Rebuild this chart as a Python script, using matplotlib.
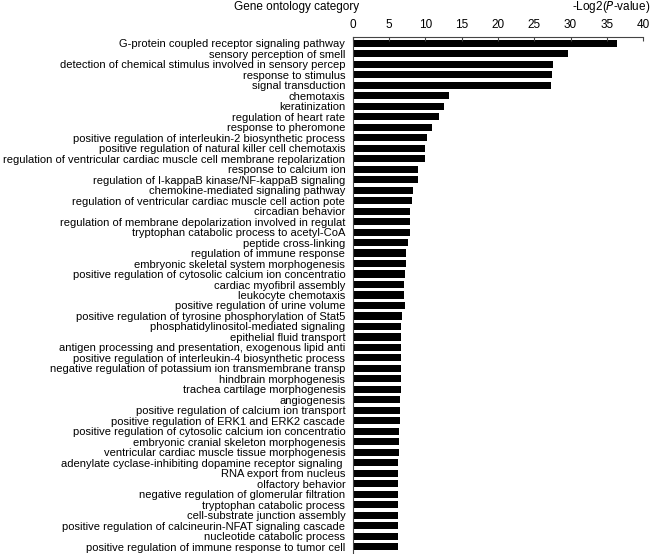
import matplotlib
matplotlib.use("Agg")
import matplotlib.pyplot as plt

categories = [
    "G-protein coupled receptor signaling pathway",
    "sensory perception of smell",
    "detection of chemical stimulus involved in sensory percep",
    "response to stimulus",
    "signal transduction",
    "chemotaxis",
    "keratinization",
    "regulation of heart rate",
    "response to pheromone",
    "positive regulation of interleukin-2 biosynthetic process",
    "positive regulation of natural killer cell chemotaxis",
    "regulation of ventricular cardiac muscle cell membrane repolarization",
    "response to calcium ion",
    "regulation of I-kappaB kinase/NF-kappaB signaling",
    "chemokine-mediated signaling pathway",
    "regulation of ventricular cardiac muscle cell action pote",
    "circadian behavior",
    "regulation of membrane depolarization involved in regulat",
    "tryptophan catabolic process to acetyl-CoA",
    "peptide cross-linking",
    "regulation of immune response",
    "embryonic skeletal system morphogenesis",
    "positive regulation of cytosolic calcium ion concentratio",
    "cardiac myofibril assembly",
    "leukocyte chemotaxis",
    "positive regulation of urine volume",
    "positive regulation of tyrosine phosphorylation of Stat5",
    "phosphatidylinositol-mediated signaling",
    "epithelial fluid transport",
    "antigen processing and presentation, exogenous lipid anti",
    "positive regulation of interleukin-4 biosynthetic process",
    "negative regulation of potassium ion transmembrane transp",
    "hindbrain morphogenesis",
    "trachea cartilage morphogenesis",
    "angiogenesis",
    "positive regulation of calcium ion transport",
    "positive regulation of ERK1 and ERK2 cascade",
    "positive regulation of cytosolic calcium ion concentratio",
    "embryonic cranial skeleton morphogenesis",
    "ventricular cardiac muscle tissue morphogenesis",
    "adenylate cyclase-inhibiting dopamine receptor signaling ",
    "RNA export from nucleus",
    "olfactory behavior",
    "negative regulation of glomerular filtration",
    "tryptophan catabolic process",
    "cell-substrate junction assembly",
    "positive regulation of calcineurin-NFAT signaling cascade",
    "nucleotide catabolic process",
    "positive regulation of immune response to tumor cell",
]

values = [
    36.4, 29.6, 27.6, 27.4, 27.3, 13.2, 12.6, 11.8, 10.9, 10.2,
    9.9, 9.9, 9.0, 8.95, 8.3, 8.1, 7.86, 7.86, 7.86, 7.6,
    7.3, 7.3, 7.2, 7.1, 7.1, 7.15, 6.76, 6.62, 6.62, 6.62,
    6.62, 6.62, 6.62, 6.62, 6.53, 6.46, 6.46, 6.37, 6.37, 6.37,
    6.14, 6.14, 6.14, 6.14, 6.14, 6.14, 6.14, 6.14, 6.14,
]

xticks = [0, 5, 10, 15, 20, 25, 30, 35, 40]

plt.rcParams['font.family'] = ['Liberation Sans', 'DejaVu Sans']
FS = 8.5
LFS = 8.0

fig = plt.figure(figsize=(6.51, 5.54), dpi=100)
ax = fig.add_axes([353 / 651, 1 - 553 / 554, 290 / 651, (553 - 37) / 554])

ypos = list(range(len(categories)))
ax.barh(ypos, values, height=0.68, color='black')

ax.set_xlim(0, 40)
ax.set_ylim(len(categories) - 0.4, -0.6)
ax.set_xticks(xticks)
ax.xaxis.tick_top()
ax.tick_params(axis='x', direction='in', length=3, width=0.8, labelsize=FS, pad=4, color='#444444')
ax.set_yticks(ypos)
ax.set_yticklabels(categories, fontsize=LFS)
ax.tick_params(axis='y', length=0, pad=5.5)

for s in ['right', 'bottom']:
    ax.spines[s].set_visible(False)
for s in ['left', 'top']:
    ax.spines[s].set_linewidth(0.8)
    ax.spines[s].set_color('#444444')

fig.text(297 / 651, 1 - 7 / 554, "Gene ontology category", ha='center', va='center', fontsize=FS)
fig.text(650 / 651, 1 - 7 / 554, r"-Log2($\it{P}$-value)", ha='right', va='center', fontsize=FS)

fig.savefig("out.png", dpi=100)
